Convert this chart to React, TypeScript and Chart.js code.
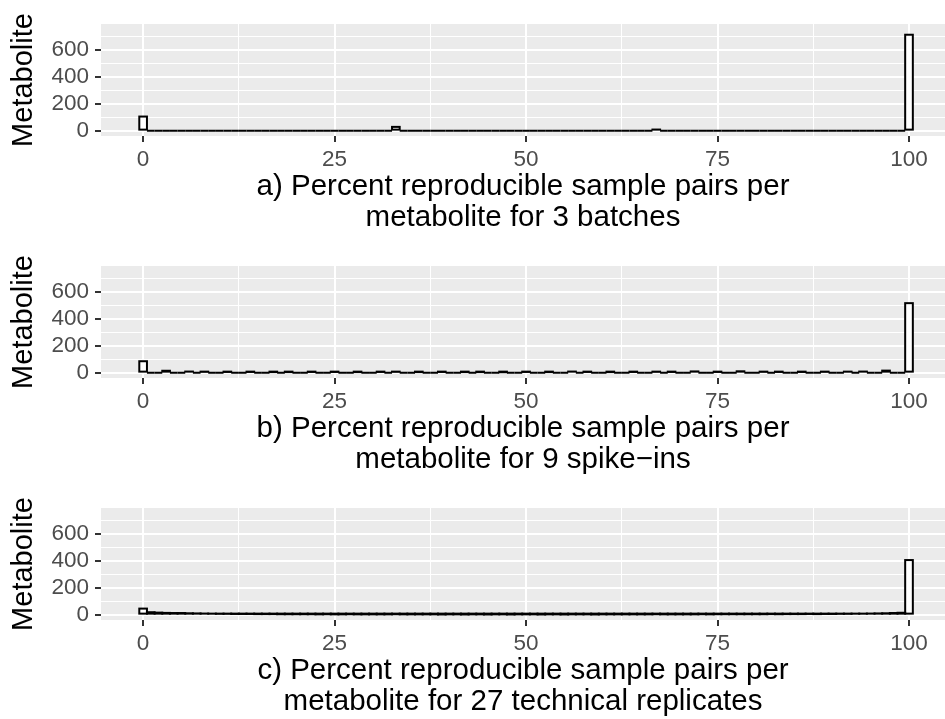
import React, { useEffect, useRef } from 'react';
import { Chart, registerables } from 'chart.js';

Chart.register(...registerables);

// ---- Data ----
// Histogram bin centres (binwidth 1, percent 0..100)
const ALL_BINS: number[] = Array.from({ length: 101 }, (_, i) => i);

// a) 3 batches: non-empty bins
const aBins = [0, 33, 67, 100];
const aCounts = [105, 28, 8, 715];

// b) 9 spike-ins: non-empty bins
const bBins = [0, 3, 6, 8, 11, 14, 17, 19, 22, 25, 28, 31, 33, 36, 39, 42, 44, 47, 50, 53, 56, 58, 61, 64, 67, 69, 72, 75, 78, 81, 83, 86, 89, 92, 94, 97, 100];
const bCounts = [85, 14, 8, 6, 5, 5, 4, 4, 5, 5, 4, 5, 6, 4, 5, 4, 4, 3, 5, 4, 8, 5, 4, 5, 6, 5, 9, 5, 10, 6, 5, 5, 6, 7, 8, 15, 518];

// c) 27 technical replicates: every bin 0..100
const cCounts = [
  45, 18, 15, 13, 12, 12, 10, 9, 8, 7, 6,
  6, 5, 5, 5, 4, 4, 4, 3, 3, 3,
  3, 3, 2, 3, 2, 2, 3, 2, 2, 2,
  2, 2, 3, 2, 2, 2, 2, 2, 1, 2,
  2, 1, 2, 2, 1, 2, 2, 1, 2, 2,
  2, 1, 2, 2, 1, 2, 2, 2, 1, 2,
  2, 2, 2, 2, 2, 2, 3, 2, 2, 2,
  2, 2, 3, 2, 3, 3, 3, 3, 3, 3,
  3, 4, 3, 4, 4, 4, 5, 4, 5, 5,
  6, 6, 7, 7, 8, 9, 10, 12, 14, 407,
];

const xMajorTicks = [0, 25, 50, 75, 100];
const xAllTicks = [0, 12.5, 25, 37.5, 50, 62.5, 75, 87.5, 100];
const yMajorTicks = [0, 200, 400, 600];
const yAllTicks = [0, 100, 200, 300, 400, 500, 600, 700];

const titleA = ['a) Percent reproducible sample pairs per', 'metabolite for 3 batches'];
const titleB = ['b) Percent reproducible sample pairs per', 'metabolite for 9 spike\u2212ins'];
const titleC = ['c) Percent reproducible sample pairs per', 'metabolite for 27 technical replicates'];
const yTitle = 'Metabolite';

function fullCounts(bins: number[], counts: number[]): number[] {
  return ALL_BINS.map((b) => {
    const k = bins.indexOf(b);
    return k >= 0 ? counts[k] : 0;
  });
}

const FONT = '"Liberation Sans", Arial, Helvetica, sans-serif';
const PANEL_H = 242;

const bgPlugin = {
  id: 'panelBg',
  beforeDraw(chart: any) {
    const { ctx, chartArea } = chart;
    ctx.save();
    ctx.fillStyle = '#EBEBEB';
    ctx.fillRect(chartArea.left, chartArea.top, chartArea.right - chartArea.left, chartArea.bottom - chartArea.top);
    ctx.restore();
  },
};

// ggplot-style outline: stroke centred on each bar's edge (zero-count bins become a line at 0)
const outlinePlugin = {
  id: 'binOutline',
  afterDatasetsDraw(chart: any) {
    const { ctx, chartArea } = chart;
    const meta = chart.getDatasetMeta(0);
    ctx.save();
    ctx.beginPath();
    ctx.rect(chartArea.left, chartArea.top, chartArea.right - chartArea.left, chartArea.bottom - chartArea.top);
    ctx.clip();
    ctx.strokeStyle = '#000000';
    ctx.lineWidth = 2;
    ctx.lineJoin = 'miter';
    meta.data.forEach((el: any) => {
      const p = el.getProps(['x', 'y', 'base', 'width'], true);
      ctx.strokeRect(p.x - p.width / 2, p.y, p.width, p.base - p.y);
    });
    ctx.restore();
  },
};

function Panel({ counts, title }: { counts: number[]; title: string[] }) {
  const ref = useRef<HTMLCanvasElement>(null);
  useEffect(() => {
    if (!ref.current) return;
    const chart = new Chart(ref.current, {
      type: 'bar',
      data: {
        datasets: [
          {
            type: 'bar',
            data: ALL_BINS.map((b, i) => ({ x: b, y: counts[i] })),
            backgroundColor: '#FFFFFF',
            borderWidth: 0,
            barPercentage: 1,
            categoryPercentage: 1,
          } as any,
        ],
      },
      options: {
        animation: false,
        responsive: false,
        devicePixelRatio: 1,
        layout: { padding: { left: 0, right: 0, top: 24, bottom: 0 } },
        plugins: { legend: { display: false }, tooltip: { enabled: false }, title: { display: false } },
        scales: {
          x: {
            type: 'linear',
            offset: false,
            min: -5.5,
            max: 104.7,
            afterBuildTicks: (s: any) => {
              s.ticks = xAllTicks.map((v) => ({ value: v }));
            },
            afterFit: (s: any) => {
              s.height = PANEL_H - 136;
            },
            border: { display: false },
            grid: {
              offset: false,
              color: '#FFFFFF',
              lineWidth: (c: any) => (xMajorTicks.includes(c.tick?.value) ? 2 : 1),
              tickColor: (c: any) => (xMajorTicks.includes(c.tick?.value) ? '#333333' : 'rgba(0,0,0,0)'),
              tickLength: 6,
              tickWidth: 2,
            },
            ticks: {
              autoSkip: false,
              maxRotation: 0,
              padding: 4,
              color: '#4D4D4D',
              font: { family: FONT, size: 22.5 },
              callback: (v: any) => (xMajorTicks.includes(Number(v)) ? String(v) : ''),
            },
            title: {
              display: true,
              text: title,
              color: '#000000',
              font: { family: FONT, size: 29.5, lineHeight: 1.05 },
              padding: { top: 0, bottom: 9 },
            },
          },
          y: {
            type: 'linear',
            min: -40,
            max: 795,
            afterBuildTicks: (s: any) => {
              s.ticks = yAllTicks.map((v) => ({ value: v }));
            },
            afterFit: (s: any) => {
              s.width = 101;
            },
            border: { display: false },
            grid: {
              color: '#FFFFFF',
              lineWidth: (c: any) => (yMajorTicks.includes(c.tick?.value) ? 2 : 1),
              tickColor: (c: any) => (yMajorTicks.includes(c.tick?.value) ? '#333333' : 'rgba(0,0,0,0)'),
              tickLength: 6,
              tickWidth: 2,
            },
            ticks: {
              autoSkip: false,
              padding: 6,
              color: '#4D4D4D',
              font: { family: FONT, size: 22.5 },
              callback: (v: any) => (yMajorTicks.includes(Number(v)) ? String(v) : ''),
            },
            title: {
              display: true,
              text: yTitle,
              color: '#000000',
              font: { family: FONT, size: 29, lineHeight: 1.2 },
              padding: { top: 7, bottom: 0 },
            },
          },
        },
      } as any,
      plugins: [bgPlugin, outlinePlugin],
    });
    return () => chart.destroy();
  }, [counts, title]);
  return (
    <div style={{ width: 945, height: PANEL_H }}>
      <canvas ref={ref} width={945} height={PANEL_H} style={{ display: 'block' }} />
    </div>
  );
}

const countsA = fullCounts(aBins, aCounts);
const countsB = fullCounts(bBins, bCounts);

export default function App() {
  return (
    <div style={{ position: 'fixed', left: 0, top: 0, width: 945, height: 719, overflow: 'hidden', background: '#FFFFFF' }}>
      <Panel counts={countsA} title={titleA} />
      <Panel counts={countsB} title={titleB} />
      <Panel counts={cCounts} title={titleC} />
    </div>
  );
}
